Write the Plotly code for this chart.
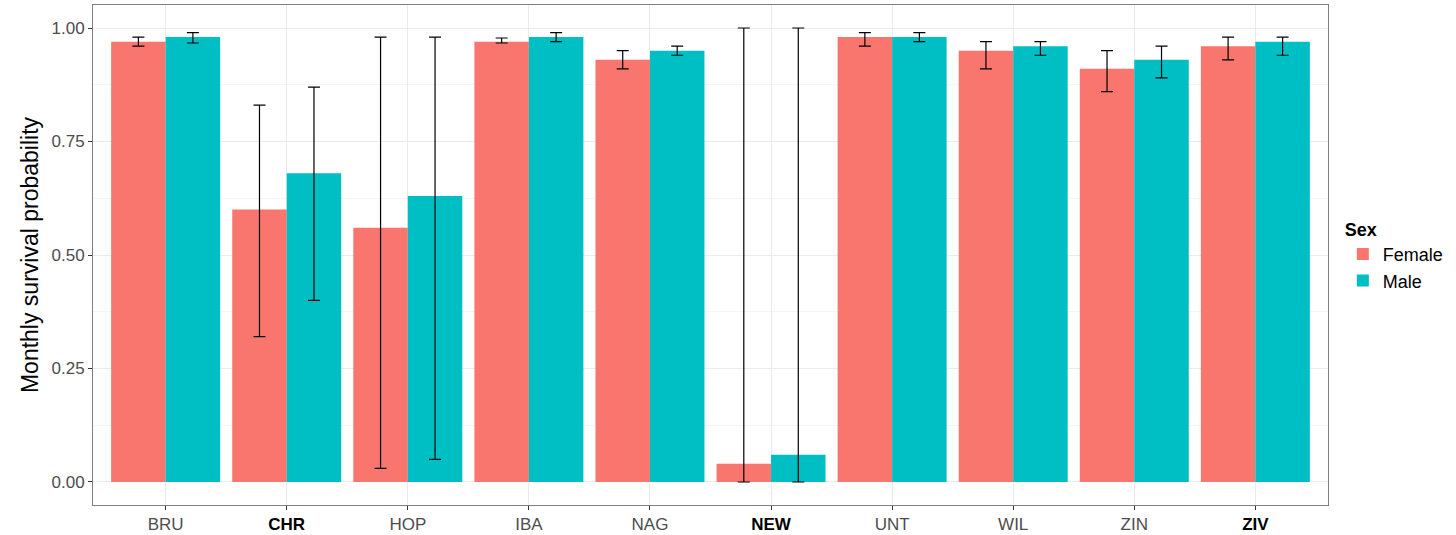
import plotly.graph_objects as go

sites = ["BRU", "CHR", "HOP", "IBA", "NAG", "NEW", "UNT", "WIL", "ZIN", "ZIV"]
bold_sites = ["CHR", "NEW", "ZIV"]

female = [0.97, 0.60, 0.56, 0.97, 0.93, 0.04, 0.98, 0.95, 0.91, 0.96]
female_lo = [0.96, 0.32, 0.03, 0.967, 0.91, 0.00, 0.96, 0.91, 0.86, 0.93]
female_hi = [0.98, 0.83, 0.98, 0.978, 0.95, 1.00, 0.99, 0.97, 0.95, 0.98]

male = [0.98, 0.68, 0.63, 0.98, 0.95, 0.06, 0.98, 0.96, 0.93, 0.97]
male_lo = [0.967, 0.40, 0.05, 0.97, 0.94, 0.00, 0.97, 0.94, 0.89, 0.94]
male_hi = [0.99, 0.87, 0.98, 0.99, 0.96, 1.00, 0.99, 0.97, 0.96, 0.98]

tick_text = [f"<span style='color:black'><b>{s}</b></span>" if s in bold_sites else s
             for s in sites]


def err(v, lo, hi):
    return dict(
        type="data", symmetric=False,
        array=[h - x for x, h in zip(v, hi)],
        arrayminus=[x - l for x, l in zip(v, lo)],
        color="black", thickness=1.2, width=6,
    )


fig = go.Figure()
fig.add_trace(go.Bar(x=sites, y=female, name="Female", marker_color="#F8766D",
                     marker_line_width=0, error_y=err(female, female_lo, female_hi)))
fig.add_trace(go.Bar(x=sites, y=male, name="Male", marker_color="#00BFC4",
                     marker_line_width=0, error_y=err(male, male_lo, male_hi)))

fig.update_layout(
    width=1456, height=535,
    margin=dict(l=93, r=128, t=5, b=30),
    paper_bgcolor="white", plot_bgcolor="white",
    barmode="group", bargap=0.1, bargroupgap=0,
    font=dict(family="Liberation Sans, Arial, sans-serif", color="#4D4D4D", size=17),
    legend=dict(
        title=dict(text="<b>Sex</b>", font=dict(size=18, color="black")),
        x=1.012, y=0.585, xanchor="left", yanchor="top",
        font=dict(size=18, color="black"),
        tracegroupgap=0,
    ),
)
fig.update_xaxes(
    tickmode="array", tickvals=sites, ticktext=tick_text,
    range=[-0.6, 9.6], automargin=False,
    showgrid=True, gridcolor="#EBEBEB", gridwidth=1,
    showline=True, linecolor="#7F7F7F", linewidth=1, mirror=True,
    ticks="outside", ticklen=4, tickcolor="#333333",
    tickfont=dict(size=17, color="#4D4D4D"),
    zeroline=False,
)
fig.update_yaxes(
    range=[-0.0507, 1.0507], automargin=False,
    tickvals=[0, 0.25, 0.5, 0.75, 1.0],
    ticktext=["0.00", "0.25", "0.50", "0.75", "1.00"],
    showgrid=True, gridcolor="#EBEBEB", gridwidth=1,
    minor=dict(tickvals=[0.125, 0.375, 0.625, 0.875], showgrid=True,
               gridcolor="#F5F5F5", gridwidth=1),
    showline=True, linecolor="#7F7F7F", linewidth=1, mirror=True,
    ticks="outside", ticklen=4, tickcolor="#333333",
    tickfont=dict(size=17, color="#4D4D4D"),
    title=dict(text="Monthly survival probability", font=dict(size=23, color="black"), standoff=6),
    zeroline=False,
)

fig.write_html("out.html", config={"displayModeBar": False},
               post_script="document.body.style.margin='0';")
